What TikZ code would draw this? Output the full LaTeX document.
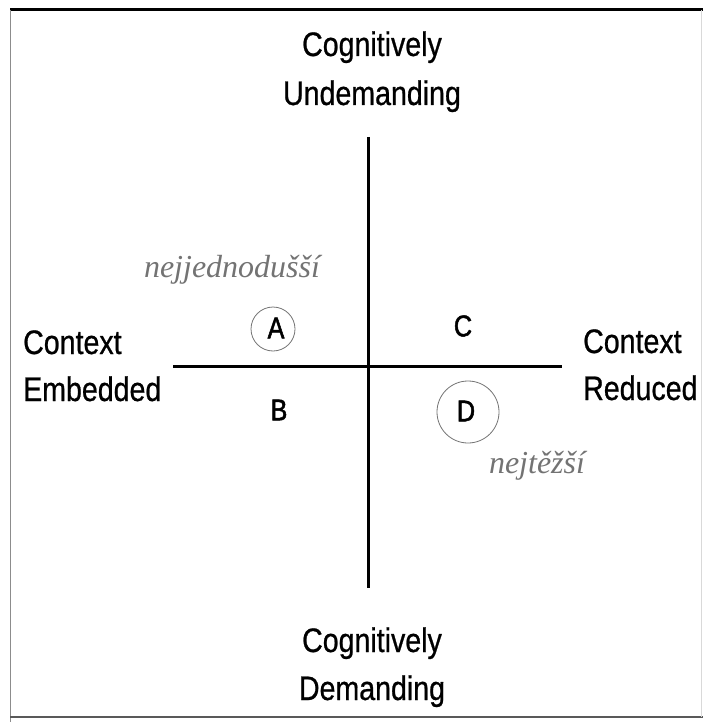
\documentclass[tikz,border=0pt]{standalone}
\usepackage{fontspec}
\setmainfont[FakeStretch=0.84,FakeBold=0.7]{Liberation Sans}
\newfontfamily\letterfont[FakeStretch=0.84,FakeBold=1.6]{Liberation Sans}
\newfontfamily\hand{Liberation Serif}
\begin{document}
\begin{tikzpicture}[x=1pt,y=-1pt,
  lbl/.style={font=\fontsize{34}{40}\selectfont, inner sep=0pt, anchor=base},
  lblw/.style={lbl, anchor=base west},
  letter/.style={font=\letterfont\fontsize{30}{36}\selectfont, inner sep=0pt},
  ring/.style={circle, draw=black!55, line width=0.8pt, inner sep=0pt},
  note/.style={font=\hand\itshape\fontsize{32}{38}\selectfont, text=black!55, inner sep=0pt, anchor=base},
  axis/.style={line width=3pt}]
\useasboundingbox (0,0) rectangle (703,722);
% frame
\draw[line width=3pt] (10,10) -- (703,10);
\draw[black!45, line width=0.9pt] (10,10) -- (10,722);
\draw[black!65, line width=1.6pt] (10,717) -- (703,717);
\draw[black!15, line width=0.6pt] (701,10) -- (701,717);
% axes
\coordinate (vt) at (368,137);
\coordinate (vb) at (368,588);
\coordinate (hl) at (173,366);
\coordinate (hr) at (562,366);
\draw[axis] (vt) -- (vb);
\draw[axis] (hl) -- (hr);
% labels
\node[lbl] (top1) at (372,56) {Cognitively};
\node[lbl] (top2) at (372,105) {Undemanding};
\node[lbl] (bot1) at (372,652) {Cognitively};
\node[lbl] (bot2) at (372,700) {Demanding};
\node[lblw] (left1) at (23,354) {Context};
\node[lblw] (left2) at (23,401) {Embedded};
\node[lblw] (right1) at (583,353) {Context};
\node[lblw] (right2) at (583,400) {Reduced};
% quadrant letters
\node[letter] (A) at (276,328) {A};
\node[letter] (C) at (463,326) {C};
\node[letter] (B) at (279,410) {B};
\node[letter] (D) at (466,411) {D};
\node[ring, minimum size=44pt] (ringA) at (273,329) {};
\node[ring, minimum size=62pt] (ringD) at (468,412) {};
% handwritten notes
\node[note] (easy) at (232,277) {nejjednodušší};
\node[note] (hard) at (537,473) {nejtěžší};
\end{tikzpicture}
\end{document}
